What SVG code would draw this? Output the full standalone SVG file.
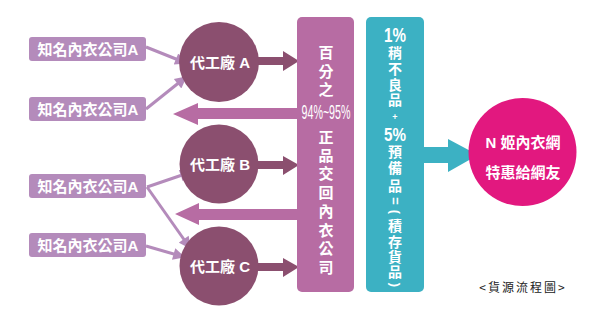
<svg xmlns="http://www.w3.org/2000/svg" width="600" height="323" viewBox="0 0 600 323">
<style>
.src{fill:#b48bbb}
.fac{fill:#8b4f6f}
.t{font-family:"Liberation Sans","Noto Sans CJK TC",sans-serif;font-weight:bold;fill:#fff;dominant-baseline:central;text-anchor:middle}
.s14{font-size:14px}
.s15{font-size:15px}
.ln{stroke:#b48bbb;stroke-width:3;fill:none;marker-end:url(#ah)}
</style>
<defs>
<marker id="ah" viewBox="0 0 10 10" refX="9" refY="5" markerWidth="4.5" markerHeight="4" orient="auto" markerUnits="strokeWidth">
<path d="M0,0 L10,5 L0,10 Z" fill="#b48bbb"/>
</marker>
</defs>
<rect width="600" height="323" fill="#fff"/>

<g id="connectors">
<line class="ln" x1="146" y1="47" x2="186" y2="63"/>
<line class="ln" x1="146" y1="109" x2="186" y2="77"/>
<line class="ln" x1="147" y1="187" x2="191" y2="172"/>
<line class="ln" x1="147" y1="187" x2="190" y2="248"/>
<line class="ln" x1="146" y1="246" x2="184" y2="257"/>
<polygon fill="#8b4f6f" points="258,57 283,57 283,51 299,61 283,71 283,65 258,65"/>
<polygon fill="#8b4f6f" points="258,161 283,161 283,156 299,165 283,175 283,169 258,169"/>
<polygon fill="#8b4f6f" points="258,263 283,263 283,258 299,267 283,277 283,271 258,271"/>
<polygon fill="#b76ca3" points="300,108 198,108 198,103 173,114 198,125 198,119 300,119"/>
<polygon fill="#b76ca3" points="300,209 199,209 199,203 175,214 199,225 199,220 300,220"/>
<polygon fill="#3cb1c3" points="420,147 448,147 448,139 478,155 448,172 448,163 420,163"/>
</g>

<g id="src1"><rect class="src" x="29" y="37" width="117" height="24" rx="3"/><text class="t s15" x="88" y="49">知名內衣公司A</text></g>
<g id="src2"><rect class="src" x="29" y="97" width="117" height="24" rx="3"/><text class="t s15" x="88" y="109">知名內衣公司A</text></g>
<g id="src3"><rect class="src" x="29" y="174" width="117" height="24" rx="3"/><text class="t s15" x="88" y="186">知名內衣公司A</text></g>
<g id="src4"><rect class="src" x="29" y="233" width="117" height="24" rx="3"/><text class="t s15" x="88" y="245">知名內衣公司A</text></g>

<g id="facA"><circle class="fac" cx="219" cy="62" r="40"/><text class="t s15" x="220" y="62">代工廠 A</text></g>
<g id="facB"><circle class="fac" cx="219" cy="164" r="39.5"/><text class="t s15" x="220" y="164">代工廠 B</text></g>
<g id="facC"><circle class="fac" cx="219" cy="266" r="39.5"/><text class="t s15" x="220" y="266">代工廠 C</text></g>

<g id="returnBox">
<rect x="297" y="17" width="57" height="275" rx="5" fill="#b76ca3"/>
<g class="t s15">
<text x="326" y="52">百</text>
<text x="326" y="71">分</text>
<text x="326" y="89">之</text>
<text x="326" y="111" textLength="49" lengthAdjust="spacingAndGlyphs" style="font-size:21px;font-weight:normal">94%~95%</text>
<text x="326" y="137">正</text>
<text x="326" y="155">品</text>
<text x="326" y="173">交</text>
<text x="326" y="192">回</text>
<text x="326" y="211">內</text>
<text x="326" y="230">衣</text>
<text x="326" y="248">公</text>
<text x="326" y="267">司</text>
</g>
</g>

<g id="stockBox">
<rect x="366" y="17" width="58" height="275" rx="5" fill="#3cb1c3"/>
<g class="t s14">
<text x="395" y="35" textLength="22" lengthAdjust="spacingAndGlyphs" style="font-size:20px">1%</text>
<text x="395" y="53">稍</text>
<text x="395" y="69">不</text>
<text x="395" y="85">良</text>
<text x="395" y="100">品</text>
<text x="395" y="116.5" style="font-size:9px">+</text>
<text x="395" y="134" textLength="22" lengthAdjust="spacingAndGlyphs" style="font-size:19px">5%</text>
<text x="395" y="152">預</text>
<text x="395" y="168">備</text>
<text x="395" y="186">品</text>
<text x="395" y="201" transform="rotate(90 395 201)" style="font-size:13px">=</text>
<text x="395" y="212" transform="rotate(90 395 212)" style="font-size:13px">(</text>
<text x="395" y="226">積</text>
<text x="395" y="242">存</text>
<text x="395" y="257">貨</text>
<text x="395" y="272">品</text>
<text x="395" y="285" transform="rotate(90 395 285)" style="font-size:13px">)</text>
</g>
</g>

<g id="netBuyers">
<circle cx="522.5" cy="152" r="54" fill="#e2187f"/>
<text class="t s15" x="523" y="142">N 姬內衣網</text>
<text class="t s15" x="523" y="172">特惠給網友</text>
</g>

<text x="523" y="286" font-family="'Noto Sans CJK TC','Liberation Sans',sans-serif" font-size="12" fill="#222" text-anchor="middle" dominant-baseline="central" letter-spacing="2">&lt;貨源流程圖&gt;</text>
</svg>
